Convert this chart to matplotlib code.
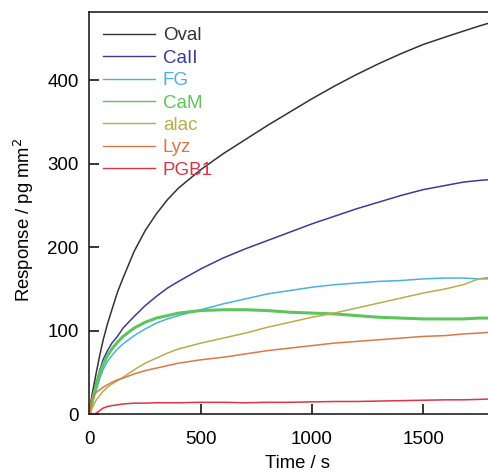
import matplotlib
matplotlib.use("Agg")
import matplotlib.pyplot as plt

plt.rcParams['font.family'] = ['Liberation Sans', 'DejaVu Sans']

# Time axis (s)
time_s = [0, 5, 10, 20, 30, 45, 60, 80, 100, 125, 150, 200, 250, 300, 350, 400,
          500, 600, 700, 800, 900, 1000, 1100, 1200, 1300, 1400, 1500, 1600, 1680, 1750, 1800]

# Responses (pg mm^2)
oval = [0, 14, 22, 36, 50, 70, 88, 108, 125, 146, 163, 195, 220, 240, 257, 271,
        293, 312, 329, 346, 362, 378, 393, 407, 420, 432, 443, 452, 459, 465, 469]
call = [0, 8, 16, 28, 38, 52, 65, 76, 85, 93, 103, 117, 130, 141, 151, 159,
        174, 187, 198, 208, 218, 228, 237, 246, 254, 262, 269, 274, 278, 280, 281]
fg = [0, 5, 10, 20, 29, 42, 53, 63, 70, 78, 84, 94, 102, 109, 114, 118,
      125, 132, 138, 144, 148, 152, 155, 157, 159, 160, 162, 163, 163, 162, 162]
cam = [0, 7, 14, 25, 35, 48, 59, 70, 78, 86, 93, 103, 110, 115, 118, 121,
       124, 125, 125, 124, 122, 121, 120, 118, 116, 115, 114, 114, 114, 115, 115]
alac = [0, 3, 6, 12, 17, 22, 27, 32, 36, 40, 44, 53, 61, 67, 73, 78,
        85, 91, 97, 104, 110, 116, 121, 127, 133, 139, 145, 150, 155, 162, 164]
lyz = [0, 10, 18, 23, 26, 29, 32, 35, 38, 41, 43, 48, 52, 55, 58, 61,
       65, 68, 72, 76, 79, 82, 85, 87, 89, 91, 93, 94, 96, 97, 98]
pgb1 = [0, 0, 0, 0, 1, 4, 7, 9, 10, 11, 12, 13, 13, 13.5, 13.5, 13.5,
        14, 14, 13.5, 14, 14, 14.5, 15, 15, 15.5, 16, 16.5, 17, 17, 17.5, 18]

series_names = ['Oval', 'CaII', 'FG', 'CaM', 'alac', 'Lyz', 'PGB1']
series_values = [oval, call, fg, cam, alac, lyz, pgb1]
series_colors = ['#333333', '#3b3b9c', '#4ab2df', '#5cc65c', '#b9ad48', '#dc7846', '#dc3546']
series_widths = [1.1, 1.1, 1.1, 2.2, 1.1, 1.1, 1.1]

x_ticks = [0, 500, 1000, 1500]
y_ticks = [0, 100, 200, 300, 400]

fig = plt.figure(figsize=(4.89, 4.73), dpi=100)
ax = fig.add_axes([89 / 489, 59 / 473, 1 - 89 / 489, (414.3 - 12.7) / 473])

for name, vals, col, lw in zip(series_names, series_values, series_colors, series_widths):
    ax.plot(time_s, vals, color=col, lw=lw, label=name)

ax.set_xlim(-3, 1796)
ax.set_ylim(0, 481.5)
ax.set_xticks(x_ticks)
ax.set_yticks(y_ticks)

ax.spines['right'].set_visible(False)
for s in ['left', 'bottom', 'top']:
    ax.spines[s].set_linewidth(1.2)
    ax.spines[s].set_color('#222222')

ax.tick_params(axis='x', direction='in', length=7, width=1.1, pad=12, labelsize=13.5)
ax.tick_params(axis='y', direction='in', length=7, width=1.1, pad=7.5, labelsize=13.5)

ax.set_xlabel('Time / s', fontsize=13.3)
ax.set_ylabel('Response / pg mm$^2$', fontsize=13.3)
ax.xaxis.set_label_coords(0.521, -0.102)
ax.yaxis.set_label_coords(-0.133, 0.484)

leg = ax.legend(loc='upper left', bbox_to_anchor=(0.035, 0.963), frameon=False,
                borderpad=0, borderaxespad=0, handlelength=2.77, handletextpad=0.43,
                labelspacing=0.28, fontsize=13.5)
for txt, col in zip(leg.get_texts(), series_colors):
    txt.set_color(col)
for ln in leg.get_lines():
    ln.set_linewidth(1.0)

fig.savefig('out.png', dpi=100)
